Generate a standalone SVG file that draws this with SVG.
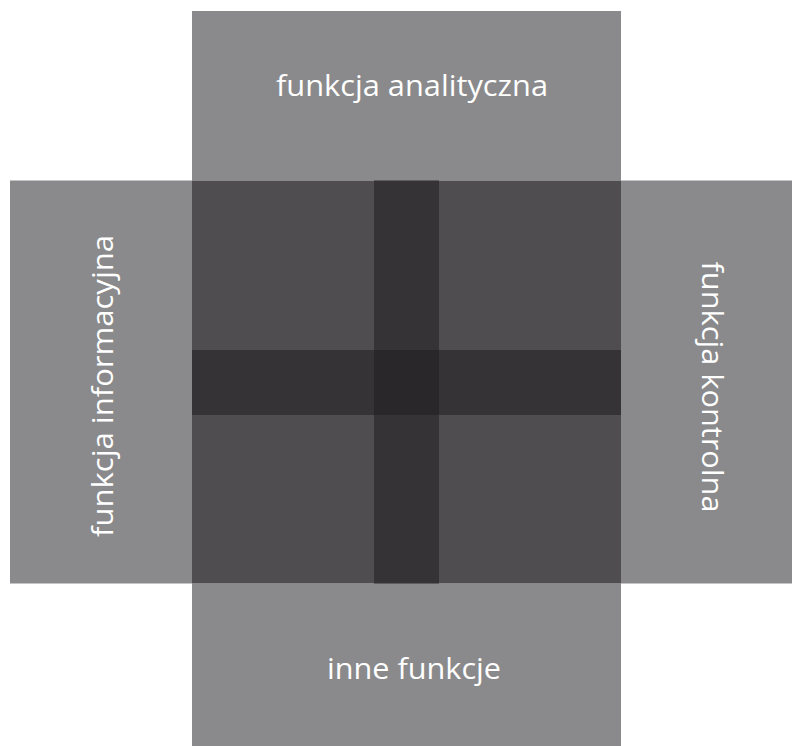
<svg xmlns="http://www.w3.org/2000/svg" width="792" height="746" viewBox="0 0 792 746">
<style>
.light{fill:#8a8a8c}
.dark{fill:#4f4d50}
.band{fill:#353336}
.cross{fill:#29272a}
.lbl{font-family:"Open Sans","Liberation Sans",sans-serif;font-size:30px;fill:#ffffff;text-anchor:middle}
</style>
<rect width="792" height="746" fill="#ffffff"/>
<g id="top">
<rect class="light" x="192" y="11" width="429" height="169.5"/>
<text class="lbl" x="412" y="96" textLength="272" lengthAdjust="spacingAndGlyphs">funkcja analityczna</text>
</g>
<g id="left">
<rect class="light" x="10" y="180.5" width="182" height="403"/>
<text class="lbl" transform="translate(113,386) rotate(-90)" x="0" y="0" textLength="302" lengthAdjust="spacingAndGlyphs">funkcja informacyjna</text>
</g>
<g id="right">
<rect class="light" x="621" y="180.5" width="171" height="403"/>
<text class="lbl" transform="translate(702,387) rotate(90)" x="0" y="0" textLength="251" lengthAdjust="spacingAndGlyphs">funkcja kontrolna</text>
</g>
<g id="bottom">
<rect class="light" x="192" y="583.5" width="429" height="162.5"/>
<text class="lbl" x="414" y="679" textLength="174" lengthAdjust="spacingAndGlyphs">inne funkcje</text>
</g>
<g id="center">
<rect class="dark" x="192" y="180.5" width="429" height="403"/>
<rect class="band" x="374" y="180.5" width="65" height="403"/>
<rect class="band" x="192" y="350" width="429" height="65"/>
<rect class="cross" x="374" y="350" width="65" height="65"/>
</g>
</svg>
